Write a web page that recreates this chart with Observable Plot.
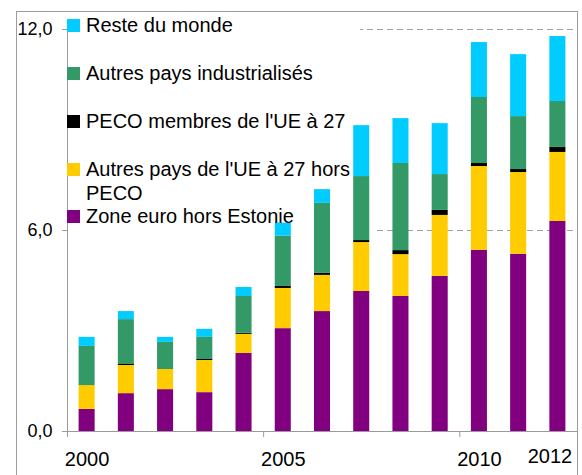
<!DOCTYPE html>
<html>
<head>
<meta charset="utf-8">
<script src="https://cdn.jsdelivr.net/npm/d3@7"></script>
<script src="https://cdn.jsdelivr.net/npm/@observablehq/plot@0.6"></script>
<style>
  html, body { margin: 0; padding: 0; background: #fff; overflow: hidden; }
  #wrap { position: relative; width: 582px; height: 475px; overflow: hidden; }
  #frame { position: absolute; left: 16px; top: 11px; width: 562px; height: 480px; border: 1px solid #9c9c9c; box-sizing: border-box; pointer-events: none; }
</style>
</head>
<body>
<div id="wrap"><div id="frame"></div></div>
<script>
// Categories
const years = [2000, 2001, 2002, 2003, 2004, 2005, 2006, 2007, 2008, 2009, 2010, 2011, 2012];

// Series (stacked bottom to top)
const seriesNames = [
  "Zone euro hors Estonie",
  "Autres pays de l'UE à 27 hors PECO",
  "PECO membres de l'UE à 27",
  "Autres pays industrialisés",
  "Reste du monde"
];
const seriesColors = ["#800080", "#FFCC00", "#000000", "#339966", "#00CCFF"];

const zoneEuro        = [0.66, 1.13, 1.25, 1.16, 2.33, 3.07, 3.58, 4.18, 4.03, 4.63, 5.41, 5.29, 6.27];
const autresUE        = [0.71, 0.84, 0.60, 0.96, 0.57, 1.20, 1.08, 1.46, 1.25, 1.82, 2.50, 2.44, 2.06];
const pecoUE          = [0.00, 0.03, 0.00, 0.03, 0.03, 0.06, 0.06, 0.06, 0.12, 0.15, 0.09, 0.09, 0.15];
const autresIndus     = [1.17, 1.34, 0.81, 0.66, 1.10, 1.50, 2.09, 1.91, 2.60, 1.07, 1.97, 1.58, 1.37];
const resteMonde      = [0.27, 0.24, 0.15, 0.24, 0.27, 0.39, 0.41, 1.52, 1.34, 1.52, 1.64, 1.85, 1.94];

// Axis ticks
const yTicks = [0, 6, 12];
const gridValues = [6, 12];
const xTickMarks = [2000, 2005, 2010];
const xLabels = [2000, 2005, 2010];
const xLabelLast = [2012];

// Legend entries (top to bottom), label lines
const legendItems = [
  {lines: ["Reste du monde"], color: "#00CCFF"},
  {lines: ["Autres pays industrialisés"], color: "#339966"},
  {lines: ["PECO membres de l'UE à 27"], color: "#000000"},
  {lines: ["Autres pays de l'UE à 27 hors", "PECO"], color: "#FFCC00"},
  {lines: ["Zone euro hors Estonie"], color: "#800080"}
];

const seriesValues = [zoneEuro, autresUE, pecoUE, autresIndus, resteMonde];
const data = [];
years.forEach((yr, i) => {
  seriesNames.forEach((s, j) => data.push({year: yr, series: s, value: seriesValues[j][i]}));
});

const fmt = d => d.toFixed(1).replace(".", ",");
const font = "'Liberation Sans', Arial, sans-serif";

const chart = Plot.plot({
  width: 582,
  height: 475,
  marginLeft: 67,
  marginRight: 5,
  marginTop: 29,
  marginBottom: 44,
  style: {fontFamily: font, fontSize: "18px", background: "transparent", color: "#000", overflow: "visible"},
  x: {domain: [2000, 2013], axis: null, label: null},
  y: {domain: [0, 12], axis: null, label: null},
  color: {domain: seriesNames, range: seriesColors},
  marks: [
    Plot.ruleY(gridValues, {stroke: "#a0a0a0", strokeDasharray: "6,4"}),
    Plot.rectY(data, {x: "year", interval: 1, y: "value", fill: "series", order: seriesNames, insetLeft: 11.6, insetRight: 11.6}),
    Plot.ruleY([0], {stroke: "#9a9a9a"}),
    Plot.ruleX([2000], {y1: 0, y2: 12.25, stroke: "#9a9a9a"}),
    Plot.axisY({ticks: yTicks, tickSize: 5, tickPadding: 10, tickFormat: fmt, stroke: "#9a9a9a", fill: "#000", fontSize: 18, label: null}),
    Plot.axisX({ticks: xTickMarks, tickSize: 6, tickFormat: () => "", stroke: "#9a9a9a", label: null}),
    Plot.axisX({ticks: xLabels.map(d => d + 0.5), tickSize: 0, tickPadding: 20, tickFormat: d => String(Math.floor(d)), fill: "#000", fontSize: 20, label: null}),
    Plot.axisX({ticks: xLabelLast.map(d => d + 0.5), tickSize: 0, tickPadding: 17, dx: -8, tickFormat: d => String(Math.floor(d)), fill: "#000", fontSize: 20, label: null})
  ]
});

document.getElementById("wrap").insertBefore(chart, document.getElementById("frame"));

// Legend background (white, hides the grid lines behind the legend)
const svg = d3.select(chart);
const grid = chart.querySelector('g[aria-label="rule"]');
const bg = document.createElementNS("http://www.w3.org/2000/svg", "g");
grid.parentNode.insertBefore(bg, grid.nextSibling);
d3.select(bg).append("rect").attr("x", 68).attr("y", 12).attr("width", 292).attr("height", 190).attr("fill", "#fff");
d3.select(bg).append("rect").attr("x", 68).attr("y", 200).attr("width", 305).attr("height", 36).attr("fill", "#fff");

// Legend (drawn on top)
const lg = svg.append("g")
  .attr("font-family", font)
  .attr("font-size", 20)
  .attr("fill", "#000")
  .attr("text-anchor", "start")
  .style("text-anchor", "start");
const rowBase = [32, 80, 128, 176, 223];
legendItems.forEach((it, i) => {
  const b = rowBase[i];
  lg.append("rect").attr("x", 67).attr("y", b - 13).attr("width", 13).attr("height", 13).attr("fill", it.color);
  it.lines.forEach((ln, k) => {
    lg.append("text").attr("x", 86).attr("y", b + k * 24).attr("text-anchor", "start").text(ln);
  });
});
</script>
</body>
</html>
